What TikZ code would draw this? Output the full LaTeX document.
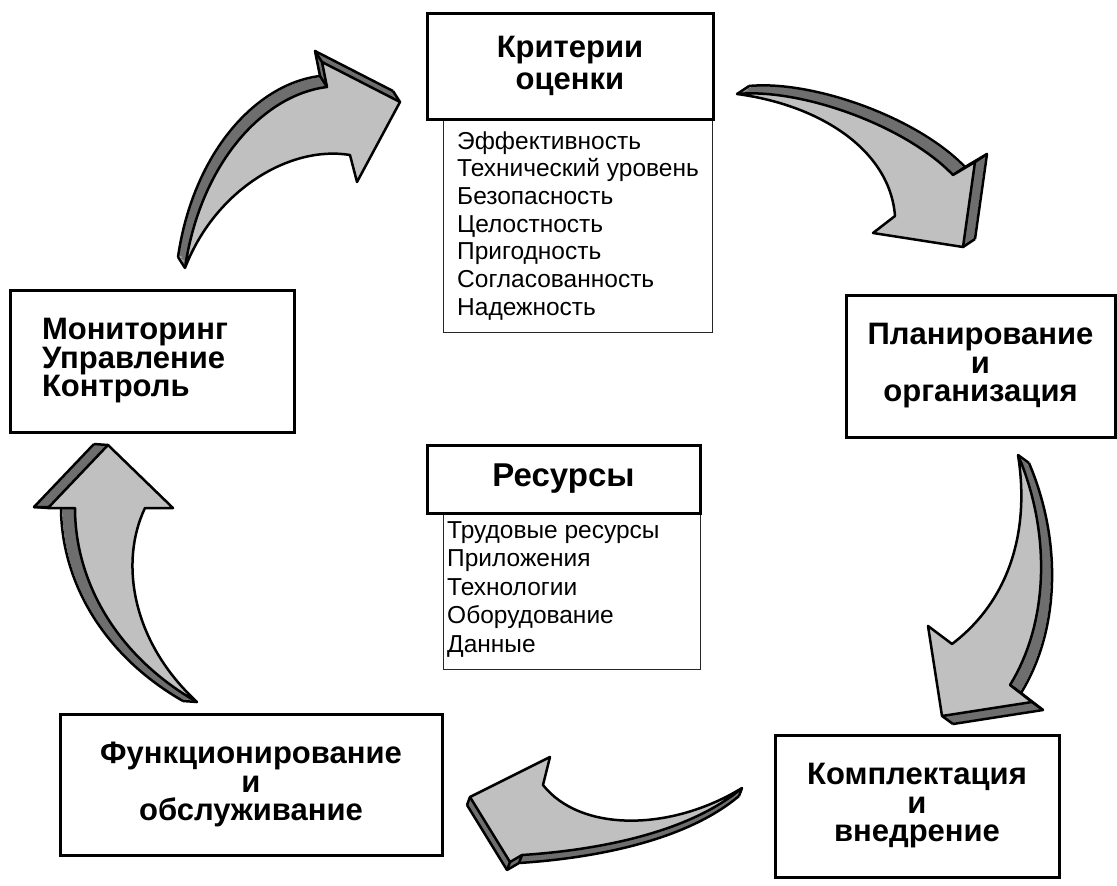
\documentclass[tikz,border=0pt]{standalone}
\usepackage{fontspec}
\setmainfont{Liberation Sans}
\usetikzlibrary{positioning}
\definecolor{facegray}{RGB}{192,192,192}
\definecolor{sidegray}{RGB}{110,110,110}
\newcommand{\hdfont}{\fontsize{31}{28.5}\selectfont\bfseries}
\newcommand{\lstfont}{\fontsize{24.5}{27.7}\selectfont}
\tikzset{
  hdbox/.style={draw,line width=3pt,rectangle,inner sep=0pt,font=\hdfont,
    align=center},
  lstbox/.style={draw=black!85,line width=1pt},
  lstitem/.style={font=\lstfont,inner sep=0pt,anchor=base west},
  arrside/.style={fill=sidegray},
  arrline/.style={line width=2.5pt,line join=round},
  arrface/.style={fill=facegray,draw=black,line width=2.5pt,line join=round},
}
% #1,#2 = depth shift, #3 = corners to join, #4 = outer edge (tail to tip),
% #5 = back barb, #6 = inner edge (back to tail)
\newcommand{\bentarrow}[6]{%
  \foreach \k in {0,0.1,...,1}
    \fill[arrside,shift={(\k*#1,\k*#2)}] #4 #6 -- cycle;
  \draw[arrline,shift={(#1,#2)}] #4;
  \foreach \cx/\cy in {#3}
    \draw[arrline] (\cx,\cy) -- ++(#1,#2);
  \filldraw[arrface] #4 #5 #6 -- cycle;
}

\begin{document}
\begin{tikzpicture}[x=1pt,y=-1pt]
  \useasboundingbox (0,0) rectangle (1117,886);
  % --- the five bent arrows of the cycle ---
  \bentarrow{-7}{-11}{185/268,327/87,322/62,400/102}
    {(185,268) .. controls (200,165) and (262,95) .. (327,87) -- (322,62)
     -- (400,102)}
    {-- (357,182)}
    {-- (350,155) .. controls (290,145) and (215,190) .. (185,268)}
  \bentarrow{12}{-8}{737/94,953/175,975/162,963/247}
    {(737,94) .. controls (800,88) and (905,125) .. (953,175) -- (975,162)
     -- (963,247)}
    {-- (873,233)}
    {-- (895,216) .. controls (890,150) and (820,105) .. (737,94)}
  \bentarrow{11}{8}{1018/455,1010/685,1032/702,942/716}
    {(1018,455) .. controls (1050,530) and (1050,620) .. (1010,685)
     -- (1032,702) -- (942,716)}
    {-- (928,626)}
    {-- (952,644) .. controls (1010,600) and (1030,530) .. (1018,455)}
  \bentarrow{-3}{8}{742/788,522/855,510/862,470/797}
    {(742,788) .. controls (690,832) and (600,850) .. (522,855) -- (510,862)
     -- (470,797)}
    {-- (550,757)}
    {-- (543,785) .. controls (580,832) and (670,832) .. (742,788)}
  \bentarrow{-14}{-1}{197/702,75/508,48/508,108/445}
    {(197,702) .. controls (115,655) and (75,580) .. (75,508) -- (48,508)
     -- (108,445)}
    {-- (173,508)}
    {-- (145,508) .. controls (120,560) and (130,640) .. (197,702)}

  % --- criteria with their list ---
  \draw[lstbox] (443,119) rectangle (712,332);
  \node[hdbox,minimum width=286pt,minimum height=106pt,
    font=\fontsize{31}{32.5}\selectfont\bfseries] (crit) at (570,66)
    {Критерии\\оценки};
  \foreach \txt [count=\i] in {Эффективность,Технический уровень,
      Безопасность,Целостность,Пригодность,Согласованность,Надежность}
    \node[lstitem] (crit\i) at (457,{149+27.7*(\i-1)}) {\txt};

  % --- resources with their list ---
  \draw[lstbox] (443,513) rectangle (700,669);
  \node[hdbox,minimum width=273pt,minimum height=68pt,
    font=\fontsize{33}{33}\selectfont\bfseries] (res) at (563.5,479)
    {Ресурсы};
  \foreach \txt [count=\i] in {Трудовые ресурсы,Приложения,Технологии,
      Оборудование,Данные}
    \node[lstitem] (res\i) at (447,{538+28.5*(\i-1)}) {\txt};

  % --- stages ---
  \node[hdbox,align=left,text width=220pt,minimum width=284pt,
    minimum height=142pt] (monitor) at (152,361)
    {Мониторинг\\Управление\\Контроль};
  \node[hdbox,minimum width=269pt,minimum height=142pt] (plan) at (980.5,366)
    {Планирование\\и\\организация};
  \node[hdbox,minimum width=284pt,minimum height=142pt] (compl) at (917,806)
    {Комплектация\\и\\внедрение};
  \node[hdbox,minimum width=382pt,minimum height=141pt] (func) at (251,784.5)
    {Функционирование\\и\\обслуживание};
\end{tikzpicture}
\end{document}
